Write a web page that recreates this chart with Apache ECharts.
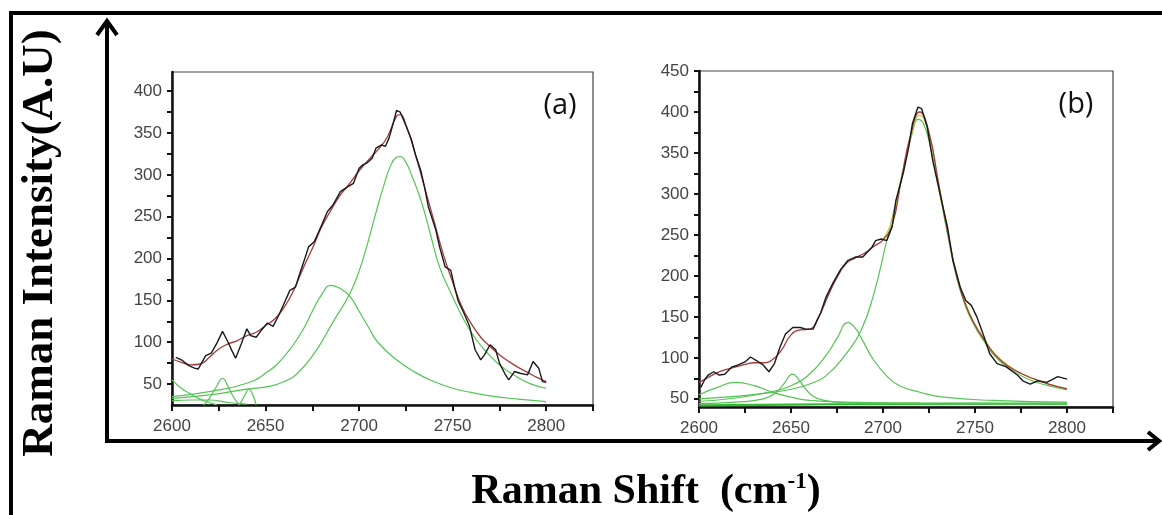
<!DOCTYPE html>
<html>
<head>
<meta charset="utf-8">
<script src="https://cdn.jsdelivr.net/npm/echarts@6.0.0/dist/echarts.min.js"></script>
<style>
html,body{margin:0;padding:0;background:#fff;}
#chart{width:1162px;height:515px;}
</style>
</head>
<body>
<div id="chart"></div>
<script>
// axis ticks / labels
var xLabels = [2600, 2650, 2700, 2750, 2800];
var xTicks = [2600, 2625, 2650, 2675, 2700, 2725, 2750, 2775, 2800, 2825];
var yLabelsA = [50, 100, 150, 200, 250, 300, 350, 400];
var yTicksA = [50, 75, 100, 125, 150, 175, 200, 225, 250, 275, 300, 325, 350, 375, 400, 425];
var yLabelsB = [50, 100, 150, 200, 250, 300, 350, 400, 450];
var yTicksB = [50, 75, 100, 125, 150, 175, 200, 225, 250, 275, 300, 325, 350, 375, 400, 425, 450];

// panel (a)
var aData = [[2602,82],[2605,79],[2609,72],[2612,69],[2614,68],[2616,76],[2618,84],[2621,87],[2624,99],[2627,113],[2630,100],[2632,90],[2634,81],[2637,98],[2640,116],[2642,108],[2645,106],[2648,115],[2651,123],[2654,119],[2657,132],[2660,147],[2663,162],[2666,166],[2668,180],[2671,200],[2673,214],[2676,220],[2678,230],[2680,240],[2683,256],[2686,264],[2688,272],[2690,280],[2694,286],[2697,290],[2700,308],[2702,312],[2704,314],[2707,320],[2709,332],[2712,336],[2714,334],[2716,344],[2718,360],[2720,377],[2722,375],[2725,359],[2728,342],[2730,325],[2733,305],[2735,285],[2737,262],[2741,234],[2743,214],[2745,198],[2746,190],[2749,186],[2751,166],[2753,149],[2756,135],[2759,119],[2762,91],[2765,79],[2767,85],[2770,97],[2773,91],[2775,75],[2778,62],[2780,55],[2783,65],[2786,63],[2790,61],[2793,77],[2796,69],[2798,53],[2800,52]];
var aFit = [[2600,80],[2605,76],[2610,73],[2615,74],[2620,82],[2625,92],[2630,98],[2635,102],[2640,108],[2645,112],[2650,120],[2655,128],[2660,142],[2665,162],[2670,188],[2675,212],[2680,238],[2685,258],[2690,276],[2695,290],[2700,305],[2705,318],[2710,330],[2715,345],[2720,370],[2722,372],[2725,360],[2730,325],[2735,285],[2740,245],[2745,205],[2750,172],[2755,142],[2760,122],[2765,106],[2770,95],[2775,85],[2780,77],[2785,70],[2790,64],[2795,58],[2800,53]];
var aPeak1 = [[2600,33],[2620,37],[2640,44],[2651,47],[2660,53],[2668,65],[2677,90],[2686,124],[2695,158],[2700,185],[2704,214],[2709,255],[2713,286],[2717,312],[2720,321],[2722,322],[2725,315],[2728,300],[2733,270],[2738,230],[2743,190],[2749,159],[2753,140],[2758,119],[2763,102],[2767,91],[2775,73],[2784,59],[2792,50],[2800,45]];
var aPeak2 = [[2600,35],[2620,41],[2640,51],[2650,63],[2660,83],[2670,115],[2675,137],[2680,157],[2685,168],[2690,164],[2695,155],[2700,137],[2705,118],[2710,100],[2720,79],[2730,64],[2740,53],[2750,45],[2760,40],[2770,36],[2785,32],[2800,29]];
var aPeak3 = [[2617,25],[2620,33],[2624,48],[2627,57],[2630,47],[2633,34],[2636,25]];
var aPeak4 = [[2636,25],[2639,37],[2641,44],[2643,38],[2645,25]];
var aPeak5 = [[2600,55],[2605,45],[2610,38],[2615,32],[2620,28],[2624,25]];
var aBase = [[2600,30],[2610,31],[2620,31],[2630,28],[2640,26]];

// panel (b)
var bData = [[2601,64],[2603,73],[2605,79],[2608,83],[2611,79],[2614,80],[2618,89],[2621,91],[2625,95],[2628,101],[2631,97],[2635,91],[2638,83],[2641,93],[2644,113],[2647,129],[2651,137],[2655,137],[2658,135],[2662,135],[2666,154],[2669,174],[2673,192],[2677,208],[2681,219],[2685,223],[2689,223],[2694,235],[2696,243],[2699,245],[2702,243],[2705,260],[2707,292],[2711,325],[2714,357],[2716,386],[2719,406],[2721,404],[2724,382],[2727,341],[2731,300],[2735,260],[2738,219],[2742,186],[2745,170],[2748,164],[2751,150],[2755,125],[2758,105],[2762,93],[2767,89],[2773,79],[2776,72],[2780,68],[2784,72],[2789,70],[2795,77],[2800,74]];
var bFit = [[2600,70],[2605,76],[2610,82],[2615,86],[2620,89],[2625,92],[2630,94],[2635,94],[2640,98],[2645,110],[2650,128],[2655,134],[2660,135],[2665,150],[2670,175],[2675,198],[2680,215],[2685,222],[2690,228],[2695,236],[2700,244],[2705,262],[2710,318],[2715,372],[2720,400],[2725,375],[2730,315],[2735,255],[2740,200],[2745,164],[2750,140],[2755,122],[2760,106],[2765,95],[2770,87],[2775,81],[2780,76],[2785,72],[2790,68],[2795,65],[2800,62]];
var bSum = [[2700,244],[2705,268],[2710,318],[2715,370],[2720,396],[2725,372],[2730,316],[2735,256],[2740,202],[2745,166],[2750,141],[2755,123],[2760,107],[2770,88],[2780,76],[2790,68],[2800,62]];
var bPeak1 = [[2600,50],[2620,53],[2633,56],[2651,62],[2660,68],[2669,78],[2680,105],[2688,133],[2695,178],[2702,243],[2707,290],[2712,340],[2716,375],[2719,391],[2722,386],[2726,355],[2730,310],[2735,252],[2740,198],[2745,162],[2750,138],[2755,120],[2760,104],[2770,85],[2780,73],[2790,66],[2800,61]];
var bPeak2 = [[2600,47],[2620,51],[2640,59],[2650,66],[2660,80],[2670,106],[2675,124],[2681,143],[2685,136],[2688,125],[2695,97],[2702,78],[2709,66],[2720,58],[2733,52],[2760,48],[2800,46]];
var bPeak3 = [[2600,55],[2610,64],[2620,70],[2630,66],[2640,58],[2650,52],[2660,48],[2680,46],[2720,45],[2800,44]];
var bPeak4 = [[2600,44],[2620,46],[2635,50],[2642,58],[2646,68],[2651,80],[2654,74],[2658,62],[2662,53],[2668,48],[2680,45],[2700,44],[2800,43]];
var bBase = [[2600,42],[2650,43],[2700,43.5],[2800,44]];

var GREEN = '#55c455';

function line(data, idx, color, width, z, smooth){
	return {
		type: 'line',
		xAxisIndex: idx,
		yAxisIndex: idx,
		data: data,
		smooth: smooth === undefined ? true : smooth,
		showSymbol: false,
		silent: true,
		z: z || 2,
		lineStyle: { color: color, width: width || 1.2 }
	};
}

function plain(v){ return String(v); }

function xAxisOf(idx){
	return {
		gridIndex: idx,
		type: 'value',
		min: 2600,
		max: 2825,
		splitLine: { show: false },
		axisLine: { onZero: false, lineStyle: { color: '#111', width: 2.5 } },
		axisTick: { customValues: xTicks, length: 6, lineStyle: { color: '#111', width: 2 } },
		axisLabel: { customValues: xLabels, formatter: plain, margin: 13, fontSize: 17, color: '#444', fontFamily: 'Liberation Sans' }
	};
}

function yAxisOf(idx, min, max, labels, ticks){
	return {
		gridIndex: idx,
		type: 'value',
		min: min,
		max: max,
		splitLine: { show: false },
		axisLine: { onZero: false, lineStyle: { color: '#111', width: 2.5 } },
		axisTick: { customValues: ticks, length: 5, lineStyle: { color: '#111', width: 2 } },
		axisLabel: { customValues: labels, formatter: plain, margin: 10, fontSize: 17, color: '#444', fontFamily: 'Liberation Sans' }
	};
}

var myChart = echarts.init(document.getElementById('chart'));

var option = {
	animation: false,
	backgroundColor: '#fff',
	grid: [
		{ left: 172, top: 72, right: 569, bottom: 110, show: true, borderColor: '#444', borderWidth: 1.2 },
		{ left: 699, top: 71, right: 49, bottom: 108, show: true, borderColor: '#444', borderWidth: 1.2 }
	],
	xAxis: [xAxisOf(0), xAxisOf(1)],
	yAxis: [
		yAxisOf(0, 25, 423, yLabelsA, yTicksA),
		yAxisOf(1, 40, 450, yLabelsB, yTicksB)
	],
	series: [
		line(aBase, 0, GREEN),
		line(aPeak5, 0, GREEN),
		line(aPeak4, 0, GREEN),
		line(aPeak3, 0, GREEN),
		line(aPeak2, 0, GREEN),
		line(aPeak1, 0, GREEN),
		line(aFit, 0, '#a23b3b', 1.3, 3),
		line(aData, 0, '#1a1a1a', 1.4, 4, false),

		line(bBase, 1, '#2dbb2d', 2.2),
		line(bPeak4, 1, GREEN),
		line(bPeak3, 1, GREEN),
		line(bPeak2, 1, GREEN),
		line(bPeak1, 1, GREEN),
		line(bSum, 1, '#cfcf55', 1.3, 3),
		line(bFit, 1, '#a23b3b', 1.3, 3),
		line(bData, 1, '#1a1a1a', 1.4, 4, false)
	],
	graphic: [
		// outer frame
		{ type: 'line', shape: { x1: 9, y1: 13, x2: 1162, y2: 13 }, style: { stroke: '#000', lineWidth: 4 } },
		{ type: 'line', shape: { x1: 11, y1: 11, x2: 11, y2: 515 }, style: { stroke: '#000', lineWidth: 4 } },
		// arrows
		{ type: 'line', shape: { x1: 107, y1: 22, x2: 107, y2: 443 }, style: { stroke: '#000', lineWidth: 4 } },
		{ type: 'polyline', shape: { points: [[97, 35], [107, 21], [117, 35]] }, style: { stroke: '#000', lineWidth: 4, fill: null } },
		{ type: 'line', shape: { x1: 105, y1: 441, x2: 1158, y2: 441 }, style: { stroke: '#000', lineWidth: 4 } },
		{ type: 'polyline', shape: { points: [[1148, 432], [1159, 441], [1148, 450]] }, style: { stroke: '#000', lineWidth: 4, fill: null } },
		// axis titles
		{
			type: 'text', x: 40, y: 243, rotation: Math.PI / 2,
			style: { text: 'Raman Intensity(A.U)', font: 'bold 45px "Liberation Serif"', fill: '#000', align: 'center', verticalAlign: 'middle' }
		},
		{
			type: 'text', x: 646, y: 492,
			style: {
				text: '{a|Raman Shift  }{a|(cm}{b|-1}{a|)}',
				align: 'center', verticalAlign: 'middle',
				rich: {
					a: { font: 'bold 42px "Liberation Serif"', fill: '#000' },
					b: { font: 'bold 23px "Liberation Serif"', fill: '#000', verticalAlign: 'top' }
				}
			}
		},
		// panel labels
		{ type: 'text', x: 560, y: 106, style: { text: '(a)', font: '29px "Open Sans"', fill: '#111', align: 'center', verticalAlign: 'middle' } },
		{ type: 'text', x: 1076, y: 105, style: { text: '(b)', font: '29px "Open Sans"', fill: '#111', align: 'center', verticalAlign: 'middle' } }
	]
};

myChart.setOption(option);
</script>
</body>
</html>
